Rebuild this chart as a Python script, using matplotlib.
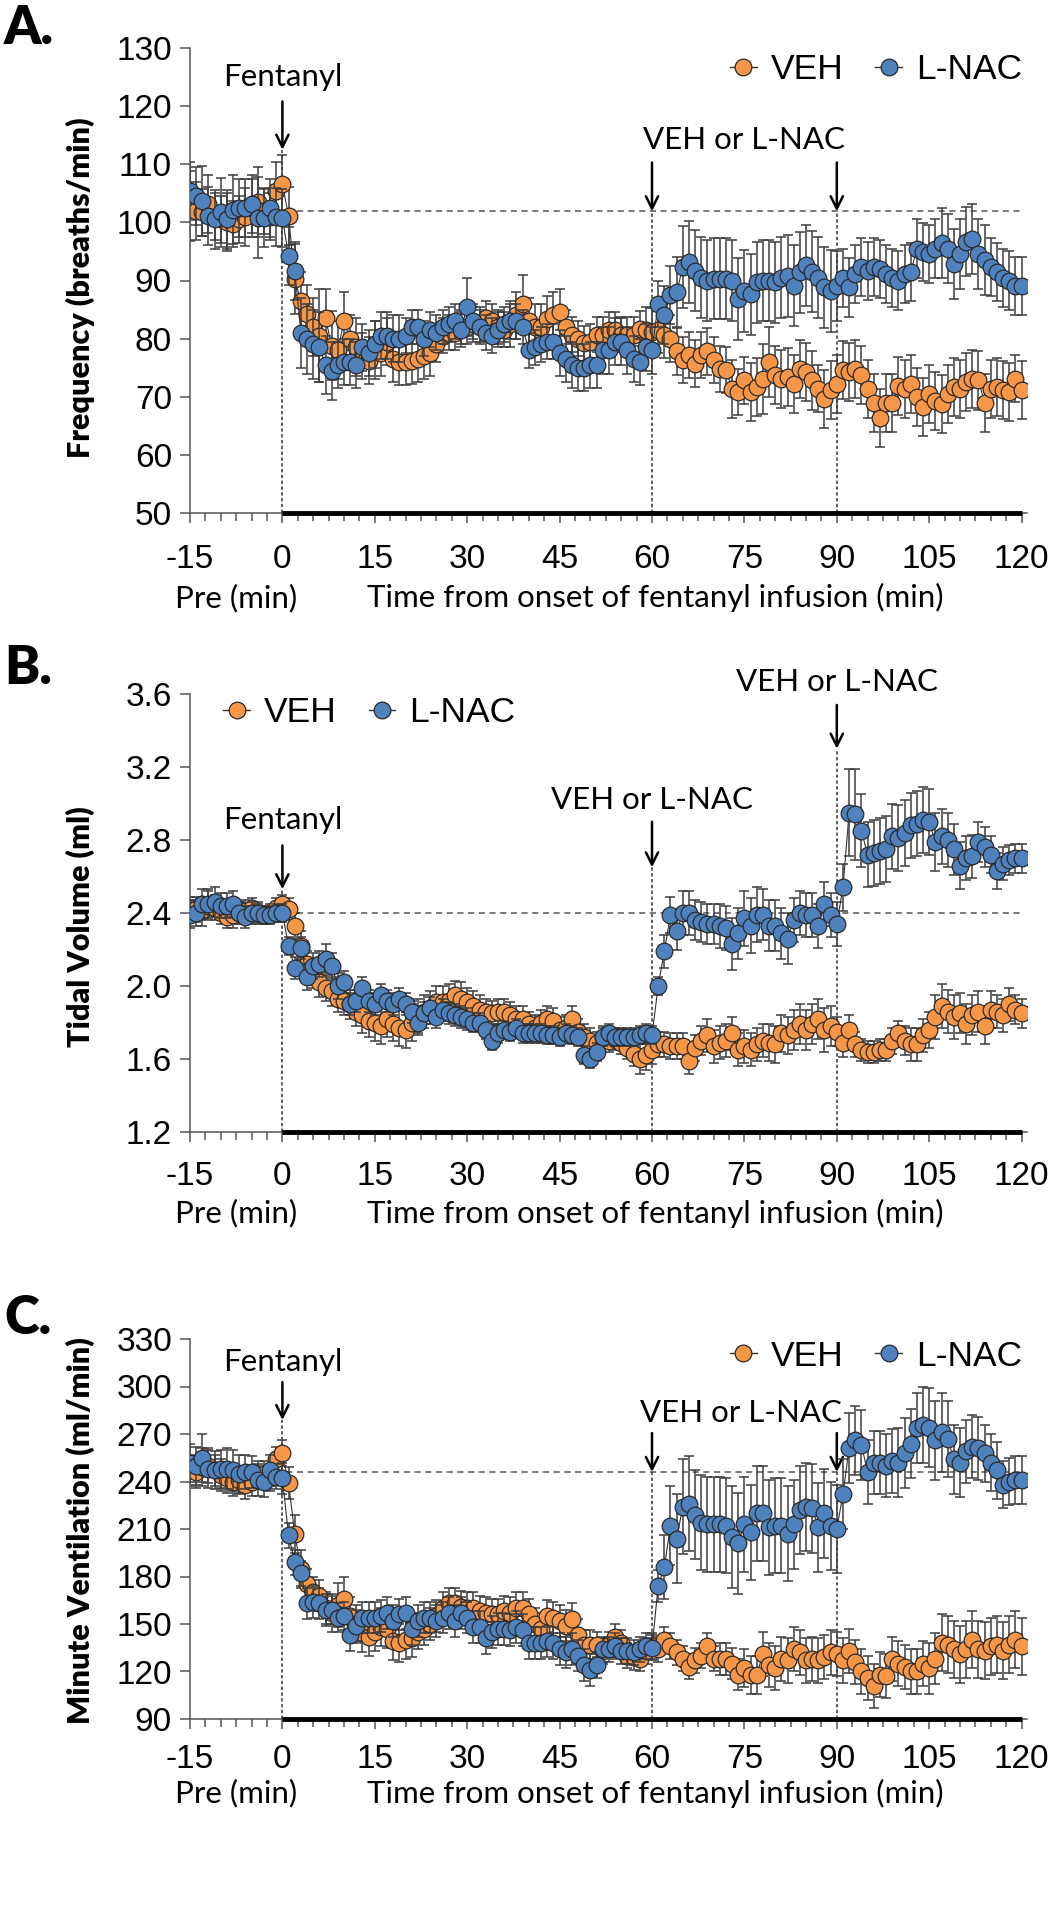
import numpy as np
import matplotlib
matplotlib.use("Agg")
import matplotlib.pyplot as plt
from matplotlib.lines import Line2D
from matplotlib.transforms import blended_transform_factory

# ---------------- data ----------------
time_min = list(range(-15, 121))  # sample times (min), 1-min bins

freq_veh = [102.8, 102.0, 101.7, 103.2, 101.0, 100.5, 100.0, 99.7, 100.5, 101.0, 102.5, 103.5, 102.0, 101.0, 105.4,
            106.6,
            101.1, 90.2, 86.5, 84.3, 82.0, 80.5, 83.5, 78.8, 78.0, 83.0,
            80.0, 78.5, 77.0, 76.2, 78.0, 77.5, 79.5, 76.5, 76.0, 76.0,
            76.2, 76.5, 77.0, 77.5, 79.0, 80.5, 81.0, 81.0, 82.0, 82.0,
            82.5, 82.5, 83.5, 83.0, 82.0, 81.5, 82.5, 84.0, 86.0, 83.0,
            82.0, 82.0, 83.3, 84.0, 84.5, 82.0, 80.7, 80.0, 79.2, 79.5,
            80.7, 80.7, 81.5, 81.5, 80.7, 80.7, 80.7, 81.7, 81.5, 81.2,
            81.5, 80.7, 80.0, 77.8, 76.3, 77.2, 75.7, 77.2, 77.8, 76.3,
            74.8, 74.6, 71.4, 70.8, 72.8, 70.8, 71.7, 73.0, 76.0, 73.7,
            73.1, 73.4, 72.2, 74.8, 74.3, 72.8, 71.4, 69.6, 71.1, 72.2,
            74.6, 74.3, 74.8, 73.7, 71.4, 69.0, 66.4, 69.0, 69.0, 71.9,
            71.4, 72.2, 69.9, 68.2, 70.5, 69.3, 68.7, 70.5, 71.7, 71.4,
            72.5, 73.1, 72.8, 69.0, 71.4, 71.7, 71.1, 70.8, 73.1, 71.1]
freq_veh_err = [6, 5, 4, 5, 4, 4, 5, 4, 4, 5, 5, 6, 4, 4, 5,
                5,
                5, 6, 5, 5, 5, 8, 5, 6, 5, 5,
                4, 5, 4, 4, 5, 4, 4, 4, 4, 4,
                4, 4, 4, 4, 3, 3, 3, 3, 3, 3,
                3, 3, 3, 3, 3, 3, 4, 4, 5, 4,
                4, 4, 4, 4, 4, 3, 3, 3, 3, 3,
                3, 3, 3, 3, 3, 3, 3, 3, 4, 4,
                4, 4, 4, 4, 4, 4, 4, 4, 4, 4,
                4, 4, 5, 4, 4, 5, 5, 6, 6, 5,
                5, 5, 5, 5, 5, 5, 4, 5, 5, 5,
                5, 5, 5, 5, 5, 5, 5, 5, 5, 5,
                5, 5, 5, 5, 5, 5, 5, 5, 5, 5,
                5, 5, 5, 5, 5, 5, 5, 5, 4, 5]
freq_nac = [105.4, 104.5, 103.7, 101.1, 100.5, 101.7, 100.5, 102.2, 102.5, 102.5, 103.1, 100.8, 100.8, 102.5, 101.0,
            100.8,
            94.2, 91.7, 81.0, 80.0, 79.0, 78.5, 75.5, 74.5, 75.5, 76.0,
            76.0, 75.5, 78.5, 77.5, 79.0, 80.5, 80.5, 80.0, 80.0, 80.5,
            82.0, 82.0, 80.0, 81.5, 81.0, 82.0, 82.5, 83.0, 81.5, 85.5,
            83.0, 82.0, 81.0, 80.5, 81.5, 82.5, 83.0, 83.0, 82.0, 78.0,
            78.5, 79.0, 79.5, 79.5, 77.5, 76.5, 75.5, 75.0, 75.0, 75.5,
            75.5, 78.0, 78.0, 79.5, 79.5, 78.0, 76.5, 76.0, 78.5, 78.0,
            86.0, 84.0, 87.5, 88.0, 92.3, 93.2, 91.7, 90.5, 90.0, 90.3,
            90.3, 90.3, 90.0, 86.8, 88.2, 87.6, 89.7, 90.0, 90.0, 89.7,
            90.5, 90.8, 89.1, 91.4, 92.6, 91.5, 90.5, 88.8, 88.2, 89.0,
            90.5, 88.8, 91.1, 92.3, 91.7, 92.3, 92.0, 91.1, 90.5, 90.0,
            91.1, 91.4, 95.5, 94.9, 94.6, 95.5, 96.4, 95.5, 92.9, 94.6,
            96.7, 97.2, 94.6, 93.5, 92.3, 91.4, 90.5, 90.0, 89.1, 89.1]
freq_nac_err = [5, 5, 6, 5, 5, 6, 5, 6, 5, 5, 5, 7, 5, 5, 5,
                5,
                5, 5, 6, 6, 6, 6, 5, 5, 4, 4,
                4, 4, 4, 4, 4, 4, 4, 4, 4, 3,
                3, 3, 3, 3, 3, 3, 3, 3, 3, 5,
                3, 3, 3, 3, 3, 3, 3, 3, 3, 3,
                3, 3, 3, 3, 4, 4, 4, 4, 4, 4,
                4, 4, 4, 4, 4, 4, 4, 4, 4, 4,
                4, 5, 5, 6, 7, 7, 7, 7, 7, 7,
                7, 7, 7, 7, 7, 7, 7, 7, 7, 7,
                7, 7, 7, 7, 7, 7, 7, 7, 7, 6,
                5, 5, 5, 5, 5, 5, 5, 5, 5, 5,
                5, 5, 5, 5, 5, 5, 6, 6, 6, 6,
                6, 6, 6, 6, 5, 5, 5, 5, 5, 5]

vt_veh = [2.43, 2.42, 2.41, 2.44, 2.43, 2.40, 2.38, 2.39, 2.40, 2.41, 2.43, 2.40, 2.39, 2.40, 2.43,
          2.45,
          2.42, 2.33, 2.22, 2.12, 2.06, 2.02, 1.99, 1.97, 1.93, 1.92,
          1.90, 1.86, 1.84, 1.81, 1.80, 1.78, 1.82, 1.79, 1.77, 1.76,
          1.80, 1.83, 1.86, 1.88, 1.91, 1.91, 1.92, 1.95, 1.93, 1.91,
          1.89, 1.87, 1.86, 1.85, 1.86, 1.86, 1.84, 1.82, 1.82, 1.79,
          1.77, 1.80, 1.82, 1.81, 1.76, 1.77, 1.82, 1.75, 1.72, 1.70,
          1.69, 1.72, 1.70, 1.71, 1.69, 1.66, 1.63, 1.60, 1.62, 1.65,
          1.68, 1.68, 1.67, 1.67, 1.67, 1.59, 1.66, 1.70, 1.73, 1.67,
          1.69, 1.70, 1.74, 1.65, 1.67, 1.65, 1.68, 1.70, 1.69, 1.68,
          1.74, 1.73, 1.76, 1.79, 1.76, 1.79, 1.82, 1.76, 1.78, 1.75,
          1.69, 1.76, 1.68, 1.65, 1.64, 1.64, 1.65, 1.65, 1.70, 1.74,
          1.70, 1.68, 1.68, 1.73, 1.76, 1.83, 1.89, 1.86, 1.83, 1.85,
          1.79, 1.84, 1.86, 1.78, 1.87, 1.86, 1.84, 1.90, 1.87, 1.85]
vt_veh_err = [0.06, 0.07, 0.08, 0.08, 0.07, 0.06, 0.06, 0.07, 0.06, 0.06, 0.05, 0.06, 0.05, 0.05, 0.05,
              0.05,
              0.06, 0.07, 0.08, 0.07, 0.07, 0.08, 0.07, 0.08, 0.07, 0.08,
              0.08, 0.08, 0.10, 0.09, 0.10, 0.10, 0.10, 0.09, 0.10, 0.10,
              0.10, 0.10, 0.09, 0.09, 0.09, 0.09, 0.09, 0.08, 0.09, 0.08,
              0.08, 0.08, 0.07, 0.07, 0.07, 0.07, 0.07, 0.07, 0.07, 0.07,
              0.07, 0.07, 0.07, 0.07, 0.07, 0.07, 0.07, 0.07, 0.07, 0.07,
              0.06, 0.06, 0.06, 0.06, 0.06, 0.06, 0.07, 0.08, 0.08, 0.08,
              0.07, 0.07, 0.07, 0.07, 0.07, 0.07, 0.07, 0.08, 0.09, 0.09,
              0.09, 0.09, 0.09, 0.09, 0.09, 0.09, 0.09, 0.09, 0.10, 0.10,
              0.10, 0.10, 0.11, 0.11, 0.11, 0.11, 0.11, 0.12, 0.11, 0.08,
              0.08, 0.08, 0.07, 0.06, 0.06, 0.06, 0.06, 0.06, 0.07, 0.07,
              0.08, 0.09, 0.09, 0.09, 0.10, 0.12, 0.12, 0.12, 0.12, 0.11,
              0.11, 0.11, 0.11, 0.10, 0.10, 0.09, 0.09, 0.09, 0.08, 0.08]
vt_nac = [2.39, 2.40, 2.45, 2.45, 2.46, 2.44, 2.44, 2.45, 2.40, 2.38, 2.40, 2.40, 2.39, 2.39, 2.40,
          2.40,
          2.22, 2.10, 2.21, 2.05, 2.11, 2.12, 2.15, 2.11, 2.00, 2.02,
          1.90, 1.92, 1.99, 1.92, 1.90, 1.95, 1.92, 1.90, 1.93, 1.90,
          1.86, 1.80, 1.85, 1.88, 1.83, 1.87, 1.85, 1.84, 1.83, 1.82,
          1.80, 1.80, 1.76, 1.70, 1.74, 1.76, 1.75, 1.77, 1.74, 1.74,
          1.74, 1.74, 1.73, 1.73, 1.72, 1.74, 1.73, 1.72, 1.62, 1.60,
          1.64, 1.72, 1.74, 1.72, 1.72, 1.72, 1.72, 1.73, 1.74, 1.73,
          2.00, 2.19, 2.39, 2.30, 2.40, 2.40, 2.36, 2.35, 2.34, 2.34,
          2.33, 2.32, 2.23, 2.29, 2.37, 2.33, 2.39, 2.39, 2.33, 2.33,
          2.29, 2.26, 2.36, 2.40, 2.39, 2.39, 2.33, 2.45, 2.39, 2.34,
          2.54, 2.95, 2.94, 2.85, 2.72, 2.73, 2.74, 2.75, 2.82, 2.81,
          2.84, 2.88, 2.89, 2.91, 2.90, 2.79, 2.82, 2.80, 2.75, 2.66,
          2.70, 2.71, 2.79, 2.76, 2.72, 2.63, 2.67, 2.69, 2.70, 2.70]
vt_nac_err = [0.07, 0.07, 0.08, 0.08, 0.08, 0.07, 0.07, 0.07, 0.06, 0.06, 0.06, 0.05, 0.05, 0.05, 0.05,
              0.05,
              0.05, 0.06, 0.06, 0.07, 0.07, 0.07, 0.08, 0.07, 0.07, 0.06,
              0.06, 0.06, 0.06, 0.06, 0.06, 0.06, 0.06, 0.06, 0.06, 0.06,
              0.06, 0.06, 0.06, 0.06, 0.06, 0.06, 0.06, 0.06, 0.06, 0.06,
              0.05, 0.05, 0.05, 0.05, 0.05, 0.05, 0.05, 0.05, 0.05, 0.05,
              0.05, 0.05, 0.05, 0.05, 0.05, 0.05, 0.05, 0.05, 0.05, 0.05,
              0.05, 0.05, 0.05, 0.05, 0.05, 0.05, 0.05, 0.05, 0.05, 0.05,
              0.05, 0.09, 0.10, 0.10, 0.12, 0.12, 0.11, 0.11, 0.11, 0.11,
              0.12, 0.12, 0.14, 0.14, 0.15, 0.15, 0.15, 0.14, 0.14, 0.14,
              0.14, 0.14, 0.12, 0.12, 0.12, 0.12, 0.12, 0.12, 0.12, 0.12,
              0.13, 0.24, 0.25, 0.20, 0.18, 0.18, 0.18, 0.18, 0.18, 0.18,
              0.18, 0.18, 0.18, 0.18, 0.18, 0.16, 0.15, 0.15, 0.14, 0.13,
              0.12, 0.12, 0.11, 0.11, 0.10, 0.10, 0.09, 0.08, 0.08, 0.08]

mv_veh = [247, 246, 249, 250, 247, 244, 242, 240, 241, 238, 240, 244, 245, 242, 254,
          258,
          239, 207, 185, 175, 170, 168, 160, 157, 162, 166,
          155, 150, 144, 142, 145, 148, 147, 139, 138, 140,
          141, 145, 147, 150, 155, 160, 163, 163, 161, 160,
          160, 158, 157, 156, 156, 158, 157, 160, 160, 156,
          150, 147, 155, 154, 152, 149, 153, 143, 137, 137,
          137, 133, 137, 142, 138, 130, 129, 128, 133, 136,
          134, 140, 136, 132, 128, 123, 127, 130, 136, 128,
          128, 128, 125, 118, 122, 118, 118, 131, 124, 122,
          128, 127, 134, 132, 127, 128, 127, 129, 132, 131,
          127, 133, 126, 120, 116, 111, 118, 117, 128, 125,
          123, 120, 120, 125, 122, 128, 138, 137, 134, 131,
          134, 140, 134, 133, 136, 137, 133, 137, 140, 136]
mv_veh_err = [10, 10, 12, 11, 10, 10, 9, 9, 9, 9, 9, 9, 8, 8, 8,
              8,
              10, 12, 12, 10, 10, 10, 10, 12, 14, 14,
              12, 12, 12, 12, 12, 12, 12, 12, 12, 12,
              12, 11, 10, 10, 10, 10, 10, 10, 10, 10,
              10, 10, 10, 10, 10, 10, 10, 10, 10, 10,
              10, 10, 10, 10, 10, 10, 10, 10, 9, 9,
              8, 8, 8, 8, 8, 8, 8, 8, 8, 8,
              8, 8, 8, 8, 8, 8, 8, 8, 8, 8,
              10, 10, 10, 10, 12, 12, 12, 14, 14, 14,
              14, 14, 14, 14, 14, 14, 14, 14, 14, 14,
              14, 14, 14, 14, 14, 14, 14, 14, 14, 14,
              14, 14, 14, 14, 16, 16, 18, 18, 18, 18,
              18, 18, 18, 18, 18, 18, 18, 18, 18, 18]
mv_nac = [252, 250, 255, 248, 247, 248, 248, 247, 245, 246, 246, 241, 240, 247, 243,
          242,
          206, 189, 182, 163, 164, 163, 159, 159, 154, 155,
          143, 149, 154, 154, 154, 155, 157, 152, 156, 157,
          147, 152, 154, 154, 152, 154, 157, 152, 157, 154,
          148, 148, 141, 145, 147, 147, 146, 148, 146, 138,
          138, 138, 139, 138, 134, 132, 134, 130, 124, 121,
          124, 134, 134, 136, 133, 133, 132, 134, 136, 135,
          174, 186, 212, 204, 224, 226, 219, 214, 213, 213,
          213, 212, 205, 201, 213, 208, 220, 220, 211, 212,
          212, 207, 213, 222, 224, 223, 211, 220, 212, 210,
          232, 261, 266, 263, 246, 252, 252, 250, 253, 252,
          258, 264, 274, 276, 274, 266, 271, 267, 254, 252,
          259, 262, 261, 258, 252, 247, 238, 240, 241, 241]
mv_nac_err = [12, 12, 15, 12, 12, 12, 13, 13, 12, 11, 10, 10, 10, 10, 8,
              10,
              8, 8, 8, 10, 10, 10, 10, 9, 9, 9,
              10, 10, 10, 10, 10, 10, 10, 10, 10, 10,
              10, 10, 10, 10, 10, 10, 10, 10, 10, 10,
              10, 10, 10, 10, 10, 10, 10, 10, 10, 10,
              10, 10, 10, 10, 10, 10, 10, 10, 10, 10,
              8, 8, 8, 8, 8, 8, 8, 8, 8, 8,
              10, 20, 25, 28, 30, 30, 28, 30, 30, 30,
              30, 30, 32, 32, 30, 30, 30, 30, 30, 30,
              30, 30, 28, 28, 28, 28, 28, 28, 28, 28,
              22, 22, 22, 22, 20, 20, 20, 20, 20, 22,
              22, 22, 22, 24, 25, 25, 25, 24, 22, 22,
              20, 20, 20, 18, 18, 18, 15, 15, 15, 15]

group_labels = ["VEH", "L-NAC"]
x_ticks = [-15, 0, 15, 30, 45, 60, 75, 90, 105, 120]

# ---------------- style ----------------
C_VEH = "#F79646"
C_NAC = "#4F81BD"
EDGE = "#2a2a2a"
TICKFONT = "Liberation Sans"
ANNFONT = ["Lato", "DejaVu Sans"]
ANNSIZE = 22.5
MS = 12.0

W, H = 1054, 1920
fig = plt.figure(figsize=(W / 100, H / 100), dpi=100)

PX_PER_MIN = 6.16
X0_PX = 190
XMAX = 120.8


def make_axes(top_px, bottom_px):
    width = (XMAX + 15) * PX_PER_MIN
    return fig.add_axes([X0_PX / W, 1 - bottom_px / H, width / W, (bottom_px - top_px) / H])


panels = [
    dict(top=48, bottom=513, ylim=(50, 130), yticks=list(range(50, 131, 10)), fmt="{:.0f}",
         ylabel="Frequency (breaths/min)", ylabel_y=0.484, letter="A.", letter_y=29,
         veh=freq_veh, veh_err=freq_veh_err, nac=freq_nac, nac_err=freq_nac_err,
         base=102, fent_text=125.0, fent_arrow=(120.8, 112.5),
         treat=[(75, 114.2, [60, 90], (110.3, 101.9))],
         legend=("center right", (0.995, 0.953)), xpad=15, pre_y=-0.182),
    dict(top=694, bottom=1132, ylim=(1.2, 3.6), yticks=[1.2, 1.6, 2.0, 2.4, 2.8, 3.2, 3.6], fmt="{:.1f}",
         ylabel="Tidal Volume (ml)", ylabel_y=0.47, letter="B.", letter_y=669,
         veh=vt_veh, veh_err=vt_veh_err, nac=vt_nac, nac_err=vt_nac_err,
         base=2.4, fent_text=2.91, fent_arrow=(2.77, 2.53),
         treat=[(60, 3.02, [60], (2.90, 2.65)), (90, 3.666, [90], (3.54, 3.30))],
         legend=("center left", (0.040, 0.957)), xpad=14, pre_y=-0.186),
    dict(top=1339, bottom=1719, ylim=(90, 330), yticks=list(range(90, 331, 30)), fmt="{:.0f}",
         ylabel="Minute Ventilation (ml/min)", ylabel_y=0.495, letter="C.", letter_y=1319,
         veh=mv_veh, veh_err=mv_veh_err, nac=mv_nac, nac_err=mv_nac_err,
         base=246, fent_text=315.5, fent_arrow=(302.8, 278.8),
         treat=[(74.4, 283.3, [60, 90], (270.6, 246.0))],
         legend=("center right", (0.995, 0.955)), xpad=11, pre_y=-0.195),
]

for p in panels:
    ax = make_axes(p["top"], p["bottom"])
    ymin, ymax = p["ylim"]
    ax.set_xlim(-15, XMAX)
    ax.set_ylim(ymin, ymax)
    for s in ("top", "right"):
        ax.spines[s].set_visible(False)
    for s in ("left", "bottom"):
        ax.spines[s].set_color("#555555")
        ax.spines[s].set_linewidth(1.1)

    ax.set_yticks(p["yticks"])
    ax.set_yticklabels([p["fmt"].format(v) for v in p["yticks"]])
    ax.set_xticks(x_ticks)
    ax.set_xticklabels([str(v) for v in x_ticks])
    ax.set_xticks(np.arange(-15, 121, 2.5), minor=True)
    ax.tick_params(axis="both", which="major", direction="out", length=7, width=1.1,
                   color="#555555", labelsize=24, pad=6)
    ax.tick_params(axis="x", which="major", pad=p["xpad"])
    ax.tick_params(axis="x", which="minor", direction="out", length=6, width=1.1, color="#555555")
    for lab in ax.get_xticklabels() + ax.get_yticklabels():
        lab.set_fontfamily(TICKFONT)

    # thick infusion bar on the x axis from 0 to 120
    ax.plot([0, 120], [ymin, ymin], color="black", lw=3.5, solid_capstyle="butt",
            clip_on=False, zorder=10)

    # baseline dashed line
    ax.plot([-15, 120], [p["base"], p["base"]], color="#555555", lw=1.1,
            linestyle=(0, (4, 3)), zorder=1)

    # data
    for vals, errs, col, zb in ((p["veh"], p["veh_err"], C_VEH, 2), (p["nac"], p["nac_err"], C_NAC, 6)):
        ax.errorbar(time_min, vals, yerr=errs, fmt="none", ecolor="#3c3c3c", elinewidth=1.1,
                    capsize=3.6, capthick=1.1, zorder=zb)
        ax.plot(time_min, vals, "-", color="#333333", lw=0.8, zorder=zb + 1)
        ax.plot(time_min, vals, "o", ms=MS, mfc=col, mec=EDGE, mew=0.9, zorder=zb + 2,
                linestyle="none")

    # fentanyl annotation
    a_top, a_tip = p["fent_arrow"]
    ax.plot([0, 0], [ymin, a_tip], color="#333333", lw=1.1, linestyle=(0, (2.2, 1.6)), zorder=1)
    ax.annotate("", xy=(0, a_tip), xytext=(0, a_top),
                arrowprops=dict(arrowstyle="->", color="black", lw=1.8, mutation_scale=22,
                                shrinkA=0, shrinkB=0), annotation_clip=False)
    ax.text(0, p["fent_text"], "Fentanyl", ha="center", va="center", fontsize=ANNSIZE,
            family=ANNFONT, clip_on=False)

    # treatment annotations
    for tx, ty, xs, (t_top, t_tip) in p["treat"]:
        ax.text(tx, ty, "VEH or L-NAC", ha="center", va="center", fontsize=ANNSIZE,
                family=ANNFONT, clip_on=False)
        for xv in xs:
            ax.plot([xv, xv], [ymin, t_tip], color="#333333", lw=1.1,
                    linestyle=(0, (2.2, 1.6)), zorder=1)
            ax.annotate("", xy=(xv, t_tip), xytext=(xv, t_top),
                        arrowprops=dict(arrowstyle="->", color="black", lw=1.8, mutation_scale=22,
                                        shrinkA=0, shrinkB=0), annotation_clip=False)

    # axis labels
    ax.set_ylabel(p["ylabel"], fontsize=22, fontweight="heavy", family=ANNFONT)
    ax.yaxis.set_label_coords(-0.114, p["ylabel_y"])
    trans = blended_transform_factory(ax.transData, ax.transAxes)
    ax.text(-7.6, p["pre_y"], "Pre (min)", transform=trans, ha="center", va="center",
            fontsize=ANNSIZE, family=ANNFONT)
    ax.text(60.5, p["pre_y"], "Time from onset of fentanyl infusion (min)", transform=trans,
            ha="center", va="center", fontsize=ANNSIZE, family=ANNFONT)

    # legend
    handles = [Line2D([0], [0], color="#333333", lw=1.0, marker="o", ms=MS, mfc=c, mec=EDGE, mew=0.9)
               for c in (C_VEH, C_NAC)]
    loc, anchor = p["legend"]
    ax.legend(handles, group_labels, ncol=2, loc=loc, bbox_to_anchor=anchor,
              frameon=False, handlelength=0.75, handletextpad=0.4, columnspacing=0.9,
              borderpad=0.0, borderaxespad=0.0, prop=dict(family=TICKFONT, size=25.5))

    # panel letter
    fig.text(4 / W, 1 - p["letter_y"] / H, p["letter"], ha="left", va="center",
             fontsize=38, fontweight="heavy", family=ANNFONT)

fig.savefig("out.png", dpi=100)
